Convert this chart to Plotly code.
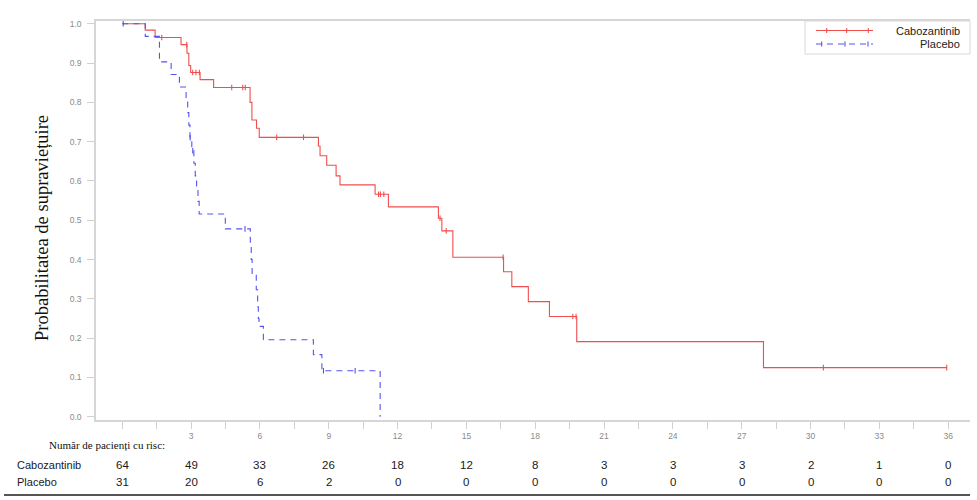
import numpy as np
import plotly.graph_objects as go

# ---------------- data ----------------
cabo_times = [0, 1.0, 1.43, 2.56, 2.82, 2.9, 2.98, 3.39, 3.98, 5.57, 5.65, 5.85, 5.97,
              8.55, 8.62, 8.91, 9.32, 9.49, 11.02, 11.6, 13.78, 13.93, 14.41,
              16.62, 16.98, 17.70, 18.62, 19.81, 27.95]
cabo_surv = [1.0, 0.984, 0.965, 0.947, 0.925, 0.894, 0.876, 0.858, 0.838, 0.80, 0.755, 0.734, 0.711,
             0.689, 0.664, 0.640, 0.613, 0.590, 0.566, 0.534, 0.505, 0.473, 0.406,
             0.369, 0.331, 0.293, 0.255, 0.191, 0.125]
cabo_censor = [1.72, 2.81, 3.07, 3.21, 3.36, 4.77, 5.25, 5.36, 6.73, 7.9, 11.17, 11.25, 11.4,
               13.85, 14.12, 16.6, 19.64, 19.78, 30.56, 35.94]

plac_times = [0, 1.0, 1.62, 2.13, 2.49, 2.78, 2.85, 2.9, 2.95, 3.03, 3.12, 3.18, 3.24, 3.3, 3.35,
              4.49, 5.58, 5.62, 5.66, 5.84, 5.9, 5.93, 5.96, 6.15, 8.33, 8.7, 11.24]
plac_surv = [1.0, 0.968, 0.903, 0.871, 0.839, 0.806, 0.774, 0.742, 0.71, 0.677, 0.645, 0.613, 0.581, 0.548, 0.516,
             0.478, 0.44, 0.40, 0.36, 0.323, 0.28, 0.25, 0.23, 0.196, 0.158, 0.117, 0.0]
plac_censor = [0.04, 2.96, 3.07, 5.35, 8.77, 10.15]

risk_months = [0, 3, 6, 9, 12, 15, 18, 21, 24, 27, 30, 33, 36]
risk_cabo = [64, 49, 33, 26, 18, 12, 8, 3, 3, 3, 2, 1, 0]
risk_plac = [31, 20, 6, 2, 0, 0, 0, 0, 0, 0, 0, 0, 0]

series_names = ["Cabozantinib", "Placebo"]
y_tick_values = [0.0, 0.1, 0.2, 0.3, 0.4, 0.5, 0.6, 0.7, 0.8, 0.9, 1.0]
x_tick_values = [i * 1.5 for i in range(25)]
x_tick_labels = ["" if (v % 3 != 0 or v == 0) else str(int(v)) for v in x_tick_values]

RED = "#f04e4e"
BLUE = "#5454f0"

# ---------------- layout constants (pixels) ----------------
W, H = 977, 500
L, R, T, B = 96, 970, 21, 420
PW, PH = R - L, B - T


def px(xp):
    return (xp - L) / PW


def py(yp):
    return (B - yp) / PH


def surv_at(times, surv, t):
    idx = np.searchsorted(np.asarray(times), t, side="right") - 1
    return surv[max(idx, 0)]


fig = go.Figure()

# Cabozantinib curve
cx = list(cabo_times) + [max(cabo_censor)]
cy = list(cabo_surv) + [cabo_surv[-1]]
fig.add_trace(go.Scatter(x=cx, y=cy, mode="lines", line=dict(color=RED, width=1.1, shape="hv"),
                         name=series_names[0], showlegend=False, hoverinfo="skip"))
fig.add_trace(go.Scatter(x=cabo_censor, y=[surv_at(cabo_times, cabo_surv, t) for t in cabo_censor],
                         mode="markers", showlegend=False, hoverinfo="skip",
                         marker=dict(symbol="line-ns", size=4, line=dict(color=RED, width=1.1))))

# Placebo curve
fig.add_trace(go.Scatter(x=plac_times, y=plac_surv, mode="lines",
                         line=dict(color=BLUE, width=1.1, shape="hv", dash="6px,5px"),
                         name=series_names[1], showlegend=False, hoverinfo="skip"))
fig.add_trace(go.Scatter(x=plac_censor, y=[surv_at(plac_times, plac_surv, t) for t in plac_censor],
                         mode="markers", showlegend=False, hoverinfo="skip",
                         marker=dict(symbol="line-ns", size=4, line=dict(color=BLUE, width=1.1))))

shapes = []
annotations = []

# legend box (drawn by hand so text can be right-aligned as in the reference)
shapes.append(dict(type="rect", xref="paper", yref="paper", x0=px(805), x1=px(970), y0=py(54), y1=py(21),
                   line=dict(color="#d8d8d8", width=1), fillcolor="rgba(0,0,0,0)"))
shapes.append(dict(type="line", xref="paper", yref="paper", x0=px(816), x1=px(873), y0=py(30.5), y1=py(30.5),
                   line=dict(color=RED, width=1.1)))
for xm in (826.7, 846.7, 868.3):
    shapes.append(dict(type="line", xref="paper", yref="paper", x0=px(xm), x1=px(xm), y0=py(28), y1=py(33),
                       line=dict(color=RED, width=1.1)))
shapes.append(dict(type="line", xref="paper", yref="paper", x0=px(816), x1=px(873), y0=py(44), y1=py(44),
                   line=dict(color=BLUE, width=1.1, dash="6px,5px")))
for xm in (821.7, 845, 868):
    shapes.append(dict(type="line", xref="paper", yref="paper", x0=px(xm), x1=px(xm), y0=py(41.5), y1=py(46.5),
                       line=dict(color=BLUE, width=1.1)))
annotations.append(dict(xref="paper", yref="paper", x=px(962), y=py(30.5), text=series_names[0],
                        showarrow=False, xanchor="right", yanchor="middle",
                        font=dict(family="Liberation Sans", size=11, color="#222")))
annotations.append(dict(xref="paper", yref="paper", x=px(962), y=py(44), text=series_names[1],
                        showarrow=False, xanchor="right", yanchor="middle",
                        font=dict(family="Liberation Sans", size=11, color="#222")))

# y axis title
annotations.append(dict(xref="paper", yref="paper", x=px(42), y=py(228), text="Probabilitatea de supraviețuire",
                        textangle=-90, showarrow=False, xanchor="center", yanchor="middle",
                        font=dict(family="Liberation Serif", size=18.5, color="#111")))

# risk table
annotations.append(dict(xref="paper", yref="paper", x=px(167), y=py(445), text="Număr de pacienți cu risc:",
                        showarrow=False, xanchor="right", yanchor="middle",
                        font=dict(family="Liberation Serif", size=11, color="#111")))
for name, row_y in ((series_names[0], 465), (series_names[1], 482)):
    annotations.append(dict(xref="paper", yref="paper", x=px(15), y=py(row_y), text=name,
                            showarrow=False, xanchor="left", yanchor="middle",
                            font=dict(family="Liberation Sans", size=11, color="#1a1a1a")))
for m, c, p in zip(risk_months, risk_cabo, risk_plac):
    annotations.append(dict(xref="x", yref="paper", x=m, y=py(465), text=str(c), showarrow=False,
                            xanchor="center", yanchor="middle",
                            font=dict(family="Liberation Sans", size=11.5, color="#1a1a1a")))
    annotations.append(dict(xref="x", yref="paper", x=m, y=py(482), text=str(p), showarrow=False,
                            xanchor="center", yanchor="middle",
                            font=dict(family="Liberation Sans", size=11.5, color="#1a1a1a")))

# bottom rule
shapes.append(dict(type="line", xref="paper", yref="paper", x0=px(4), x1=px(970), y0=py(495), y1=py(495),
                   line=dict(color="#555", width=2)))

x_scale = 22.94
x_left = (L - 122.3) / x_scale
x_right = (R - 122.3) / x_scale
y_scale = 392.9
y_bottom = -(B - 416.7) / y_scale
y_top = 1.0 + (23.8 - T) / y_scale

fig.update_layout(
    width=W, height=H, autosize=False,
    margin=dict(l=L, r=W - R, t=T, b=H - B),
    paper_bgcolor="white", plot_bgcolor="white",
    showlegend=False,
    shapes=shapes, annotations=annotations,
    font=dict(family="Liberation Sans"),
    xaxis=dict(range=[x_left, x_right], tickmode="array", tickvals=x_tick_values, ticktext=x_tick_labels,
               showgrid=False, zeroline=False, showline=True, linecolor="#d6d6d6", linewidth=1.5,
               mirror=True, ticks="outside", ticklen=7, tickcolor="#d0d0d0", tickwidth=1,
               tickfont=dict(size=8.5, color="#8a8a8a")),
    yaxis=dict(range=[y_bottom, y_top], tickmode="array", tickvals=y_tick_values,
               ticktext=[f"{v:.1f}" for v in y_tick_values],
               showgrid=False, zeroline=False, showline=True, linecolor="#d6d6d6", linewidth=1.5,
               ticks="outside", ticklen=7, tickcolor="#d0d0d0", tickwidth=1,
               ticklabelstandoff=4,
               tickfont=dict(size=8.5, color="#8a8a8a")),
)

fig.write_html("out.html")
